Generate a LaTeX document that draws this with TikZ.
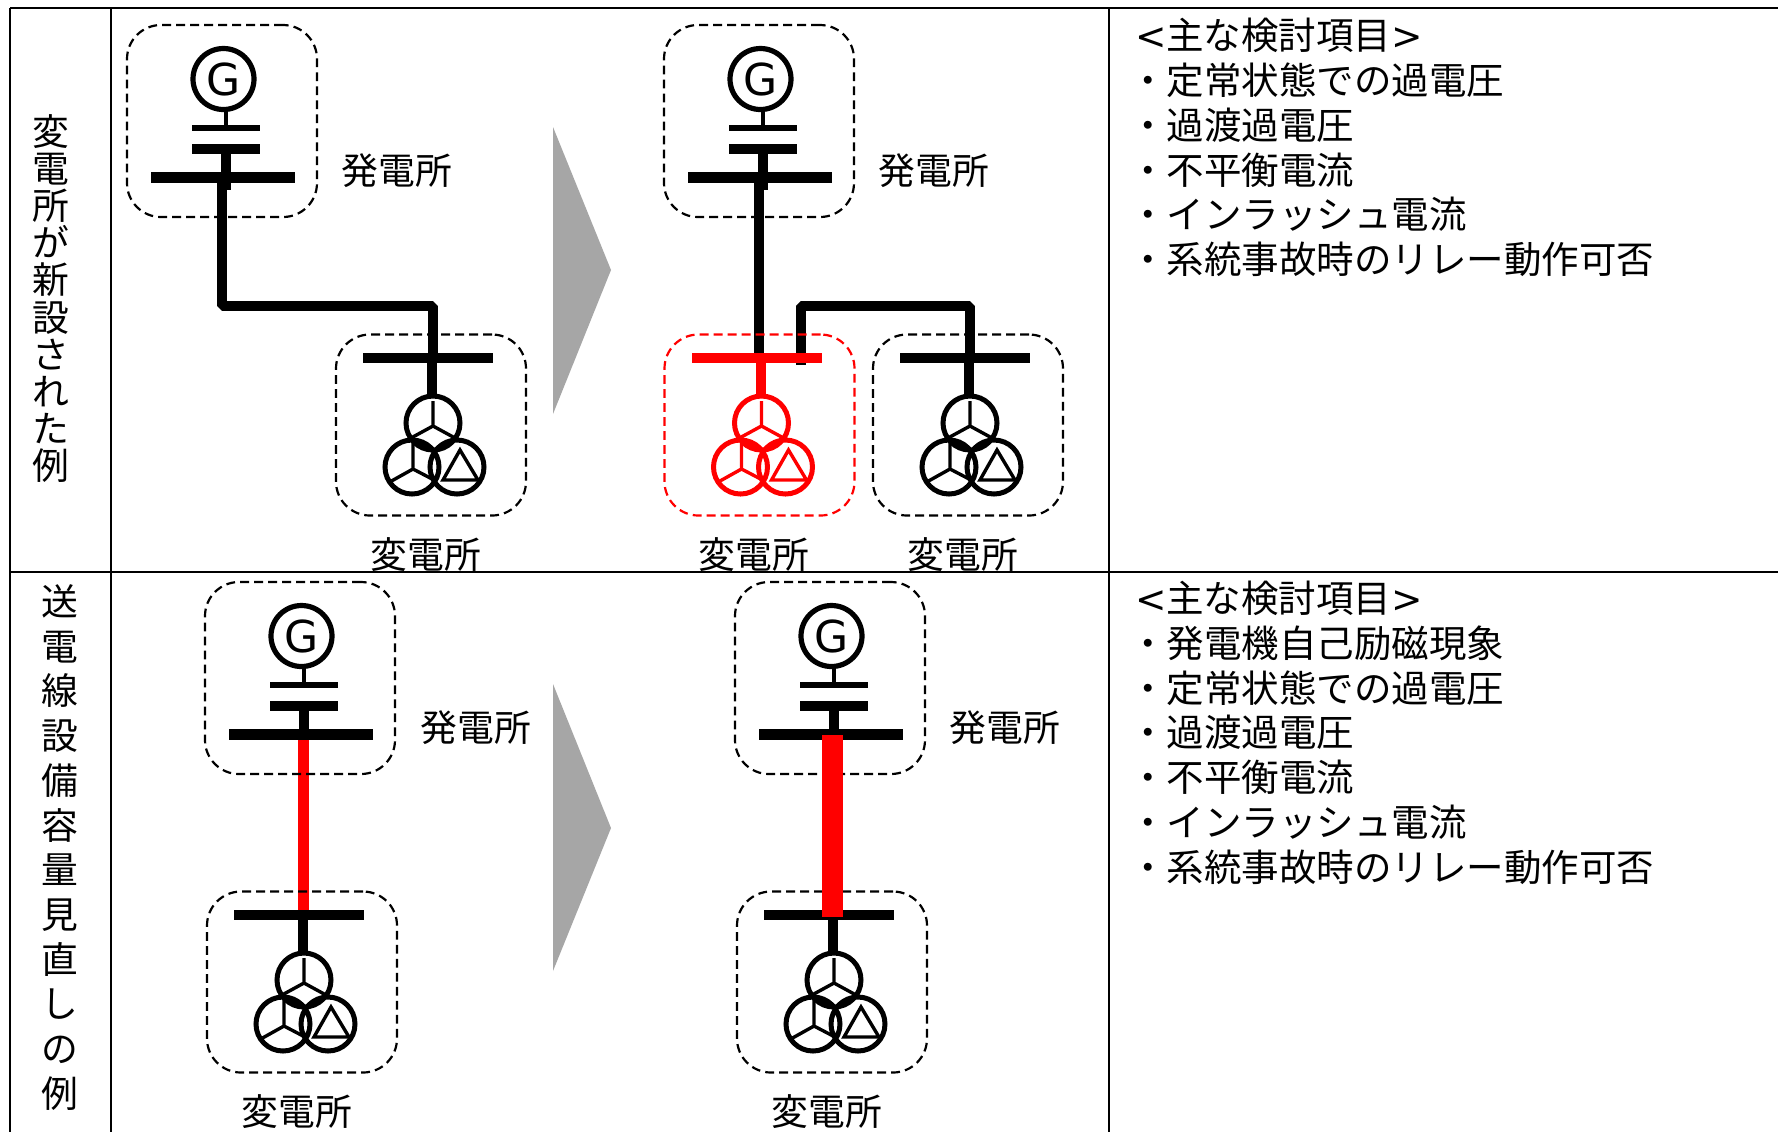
\documentclass[tikz,border=0pt]{standalone}
\usepackage{fontspec}
\setmainfont{Noto Sans CJK JP}
\newfontfamily\latfont{DejaVu Sans}
\pgfdeclarelayer{paper}
\pgfdeclarelayer{wires}
\pgfdeclarelayer{over}
\pgfsetlayers{paper,wires,main,over}
\tikzset{
  dashbox/.style={draw=#1,dash pattern=on 4.4pt off 2.6pt,line width=1.1pt,rounded corners=17pt,inner sep=0,outer sep=0},
  barnode/.style={fill=#1,draw=none,inner sep=0,outer sep=0},
  wirethick/.style={line width=5pt,line cap=butt,line join=bevel},
  gcircle/.style={circle,draw=black,line width=2.6pt,minimum size=30.5pt,inner sep=0,outer sep=0,font=\latfont\fontsize{22}{22}\selectfont},
  tfcircle/.style={line width=2.5pt},
  tfline/.style={line width=1.7pt,line join=miter},
  txt/.style={inner sep=0,outer sep=0,font=\fontsize{18.4}{18.4}\selectfont,text height=16.2pt,text depth=2.2pt},
  listtxt/.style={inner sep=0,outer sep=0,anchor=west,font=\fontsize{18.75}{18.75}\selectfont,text height=16.5pt,text depth=2.25pt},
  gridline/.style={line width=1.4pt,draw=black},
  bigarrow/.style={fill=black!35,draw=none}
}
% generator station: #1 name, #2 dx, #3 dy, #4 lower end of the stem
\newcommand\genst[4]{%
\begin{scope}[shift={(#2,#3)}]
  \node[dashbox=black,minimum width=95pt,minimum height=96pt] (#1box) at (222,121) {};
  \node[gcircle] (#1G) at (223.5,79) {G};
  \node[barnode=black,minimum width=34pt,minimum height=2.8pt] (#1thin) at (226,128) {};
  \node[barnode=black,minimum width=34pt,minimum height=5pt] (#1thick) at (226,149) {};
  \node[barnode=black,minimum width=72pt,minimum height=5.5pt] (#1bus) at (223,177) {};
  \coordinate (#1tail) at (225.5,#4);
  \coordinate (#1out) at (222,177);
  \draw[line width=2.2pt] (#1G.south -| #1thin) -- (#1thin);
  \draw[wirethick] (#1thick.center -| #1tail) -- (#1tail);
\end{scope}}
% substation: #1 name, #2 colour, #3 dx, #4 dy
\newcommand\subst[4]{%
\begin{scope}[shift={(#3,#4)}]
  \node[dashbox=#2,minimum width=95pt,minimum height=90.5pt] (#1box) at (968,425) {};
  \node[barnode=#2,minimum width=65pt,minimum height=5pt] (#1bus) at (965,358) {};
  \coordinate (#1in) at (970,358);
  \coordinate (#1stemtop) at (969,358);
  \coordinate (#1stembot) at (969,398);
  \draw[wirethick,draw=#2] (#1stemtop) -- (#1stembot);
  \draw[tfcircle,draw=#2] (970,423) circle[radius=27] (949,467) circle[radius=27] (994,467) circle[radius=27];
  \draw[tfline,draw=#2] (970,401) -- (970,426) (948,438) -- (970,426) -- (992,438);
  \draw[tfline,draw=#2] (950,436) -- (950,469) (928.5,481) -- (950,469) -- (973,481);
  \draw[tfline,draw=#2] (997,450) -- (980,480) -- (1015,480) -- cycle;
\end{scope}}
\begin{document}
\begin{tikzpicture}[x=0.5pt,y=-0.5pt]
\useasboundingbox (0,0) rectangle (1778,1132);
\begin{pgfonlayer}{paper}
  \fill[white] (0,0) rectangle (1778,1132);
\end{pgfonlayer}
% table
\draw[gridline] (10,8) -- (1778,8);
\draw[gridline] (10,572) -- (1778,572);
\draw[gridline] (10,8) -- (10,1132);
\draw[gridline] (111,8) -- (111,1132);
\draw[gridline] (1109,8) -- (1109,1132);
% stations
\genst{ga}{0}{0}{190}
\genst{gb}{537}{0}{190}
\genst{gc}{78}{557}{177}
\genst{gd}{608}{557}{177}
\subst{sa}{black}{-537}{0}
\subst{sb}{red}{-208.5}{0}
\subst{sc}{black}{0}{0}
\subst{sd}{black}{-666}{557}
\subst{se}{black}{-136}{557}
% wires
\begin{pgfonlayer}{wires}
  \coordinate (benda) at (433,306);
  \coordinate (bendb) at (970,306);
  \coordinate (stub) at (801,365);
  \coordinate (reda) at (303,734.5);
  \coordinate (redb) at (303,916);
  \draw[wirethick] (gaout) |- (benda) -- (sain);
  \draw[wirethick] (gbout) -- (gbout |- sbin);
  \draw[wirethick] (stub) |- (bendb) -- (scin);
  \draw[line width=5.5pt,draw=red] (reda) -- (redb);
\end{pgfonlayer}
\begin{pgfonlayer}{over}
  \coordinate (redc) at (832.5,735);
  \coordinate (redd) at (832.5,917);
  \draw[line width=10.5pt,draw=red] (redc) -- (redd);
\end{pgfonlayer}
% grey arrows
\fill[bigarrow] (553,127) -- (611,270) -- (553,414) -- cycle;
\fill[bigarrow] (553,684) -- (611,828) -- (553,971) -- cycle;
% station labels
\node[txt] (la) at (397,170) {発電所};
\node[txt] (lb) at (934,170) {発電所};
\node[txt] (lc) at (476,727) {発電所};
\node[txt] (ld) at (1005,727) {発電所};
\node[txt] (le) at (426,554) {変電所};
\node[txt] (lf) at (754,554) {変電所};
\node[txt] (lg) at (963,554) {変電所};
\node[txt] (lh) at (297,1111) {変電所};
\node[txt] (li) at (827,1111) {変電所};
% vertical texts
\foreach \c [count=\i from 0] in {変,電,所,が,新,設,さ,れ,た,例}
  \node[txt] (va\i) at (51,{131+37.2*\i}) {\c};
\foreach \c [count=\i from 0] in {送,電,線,設,備,容,量,見,直,し,の,例}
  \node[txt] (vb\i) at (60,{601.5+44.7*\i}) {\c};
% lists
\node[listtxt] (ha) at (1135,35.5) {{\latfont <}主な検討項目{\latfont >}};
\foreach \t [count=\i from 0] in {定常状態での過電圧,過渡過電圧,不平衡電流,インラッシュ電流,系統事故時のリレー動作可否}
  \node[listtxt] (ia\i) at (1129,{80+44.9*\i}) {・\t};
\node[listtxt] (hb) at (1135,598) {{\latfont <}主な検討項目{\latfont >}};
\foreach \t [count=\i from 0] in {発電機自己励磁現象,定常状態での過電圧,過渡過電圧,不平衡電流,インラッシュ電流,系統事故時のリレー動作可否}
  \node[listtxt] (ib\i) at (1129,{643+44.8*\i}) {・\t};
\end{tikzpicture}
\end{document}
